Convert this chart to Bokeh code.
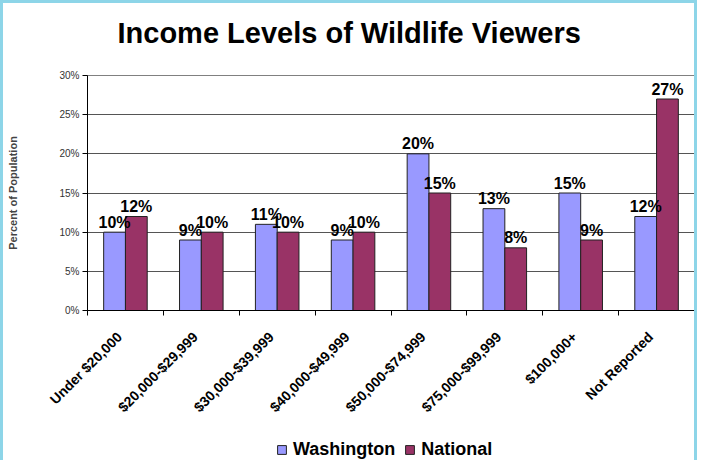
import math
from bokeh.plotting import figure
from bokeh.layouts import column
from bokeh.models import (ColumnDataSource, FixedTicker, NumeralTickFormatter,
                          Legend, LegendItem, Range1d, Title)
from bokeh.core.properties import value
from bokeh.embed import file_html
from bokeh.resources import INLINE

categories = ["Under $20,000", "$20,000-$29,999", "$30,000-$39,999", "$40,000-$49,999",
              "$50,000-$74,999", "$75,000-$99,999", "$100,000+", "Not Reported"]
washington = [0.10, 0.09, 0.11, 0.09, 0.20, 0.13, 0.15, 0.12]
national = [0.12, 0.10, 0.10, 0.10, 0.15, 0.08, 0.09, 0.27]
series_names = ["Washington", "National"]
y_ticks = [0.0, 0.05, 0.10, 0.15, 0.20, 0.25, 0.30]
colors = ["#9999FF", "#993366"]

FONT = "Liberation Sans"
BORDER = "3px solid #8DD5E8"
W = 697
n = len(categories)
centers = [i + 0.5 for i in range(n)]
label_pos = [c - 0.08 for c in centers]
off = 0.1435
bw = 0.287

src = ColumnDataSource(dict(
    xw=[c - off for c in centers],
    xn=[c + off for c in centers],
    w=washington,
    nat=national,
    lw=[f"{round(v * 100)}%" for v in washington],
    ln=[f"{round(v * 100)}%" for v in national],
))

p = figure(width=W, height=420, x_range=Range1d(0, n), y_range=Range1d(0, y_ticks[-1]),
           output_backend="svg", toolbar_location=None,
           min_border_left=84, min_border_right=6, min_border_top=72, min_border_bottom=113,
           title="Income Levels of Wildlife Viewers")
p.styles = {"border-top": BORDER, "border-left": BORDER, "border-right": BORDER}
p.background_fill_color = "white"
p.border_fill_color = "white"
p.outline_line_color = "#808080"

p.title.text_font = FONT
p.title.text_font_size = "29px"
p.title.text_font_style = "bold"
p.title.align = "left"
p.title.offset = 30
p.title.vertical_align = "bottom"
p.title.standoff = 10
p.title.text_color = "black"
# blank spacer between the title and the plot area
p.add_layout(Title(text=" ", text_font_size="10px", standoff=9), "above")

rw = p.vbar(x="xw", top="w", width=bw, source=src, fill_color=colors[0], line_color="#222222", line_width=1)
rn = p.vbar(x="xn", top="nat", width=bw, source=src, fill_color=colors[1], line_color="#222222", line_width=1)

for xcol, ycol, lcol in (("xw", "w", "lw"), ("xn", "nat", "ln")):
    p.text(x=xcol, y=ycol, text=lcol, source=src, text_align="center", text_baseline="alphabetic",
           y_offset=-10, text_font=value(FONT), text_font_style="bold", text_font_size="16px",
           text_color="black")

# y axis
p.yaxis.ticker = FixedTicker(ticks=y_ticks)
p.yaxis.formatter = NumeralTickFormatter(format="0%")
p.yaxis.minor_tick_line_color = None
p.yaxis.major_tick_in = 0
p.yaxis.major_tick_out = 5
p.yaxis.major_label_standoff = 3
p.yaxis.major_label_text_font = FONT
p.yaxis.major_label_text_font_size = "10px"
p.yaxis.major_label_text_color = "#333333"
p.yaxis.axis_line_color = "black"
p.yaxis.major_tick_line_color = "black"
p.yaxis.axis_label = "Percent of Population"
p.yaxis.axis_label_text_font = FONT
p.yaxis.axis_label_text_font_size = "11px"
p.yaxis.axis_label_text_font_style = "bold"
p.yaxis.axis_label_standoff = 37

# x axis: category labels, tick marks at category boundaries
p.xaxis.ticker = FixedTicker(ticks=label_pos, minor_ticks=list(range(n + 1)))
p.xaxis.major_label_overrides = {c: lab for c, lab in zip(label_pos, categories)}
p.xaxis.major_tick_in = 0
p.xaxis.major_tick_out = 0
p.xaxis.minor_tick_in = 0
p.xaxis.minor_tick_out = 5
p.xaxis.minor_tick_line_color = "black"
p.xaxis.axis_line_color = "black"
p.xaxis.major_label_orientation = math.pi / 4
p.xaxis.major_label_text_font = FONT
p.xaxis.major_label_text_font_size = "14px"
p.xaxis.major_label_text_font_style = "bold"
p.xaxis.major_label_text_color = "black"
p.xaxis.major_label_standoff = 19

p.xgrid.grid_line_color = None
p.ygrid.grid_line_color = "#555555"
p.ygrid.ticker = FixedTicker(ticks=y_ticks)

# legend strip below the chart (its frame is aligned with the chart frame)
lf = figure(width=W, height=40, x_range=Range1d(0, 1), y_range=Range1d(0, 1),
            output_backend="svg", toolbar_location=None, min_border=0,
            x_axis_location=None, y_axis_location=None)
lf.styles = {"border-left": BORDER, "border-right": BORDER}
lf.outline_line_color = None
lf.grid.grid_line_color = None
lf.background_fill_color = "white"
lf.border_fill_color = "white"
dw = lf.vbar(x="xw", top="w", width=bw, source=src, fill_color=colors[0], line_color="#222222", visible=False)
dn = lf.vbar(x="xn", top="nat", width=bw, source=src, fill_color=colors[1], line_color="#222222", visible=False)

legend = Legend(items=[LegendItem(label=series_names[0], renderers=[dw]),
                       LegendItem(label=series_names[1], renderers=[dn])],
                location=(189, 0), orientation="horizontal")
legend.padding = 0
legend.margin = 0
legend.spacing = 9
legend.label_standoff = 6
legend.glyph_width = 11
legend.glyph_height = 11
legend.label_text_font = FONT
legend.label_text_font_size = "18px"
legend.label_text_font_style = "bold"
legend.label_text_color = "black"
legend.border_line_color = None
legend.background_fill_alpha = 0
lf.add_layout(legend, "center")

layout = column(p, lf, spacing=0)
open("out.html", "w").write(file_html(layout, INLINE))
